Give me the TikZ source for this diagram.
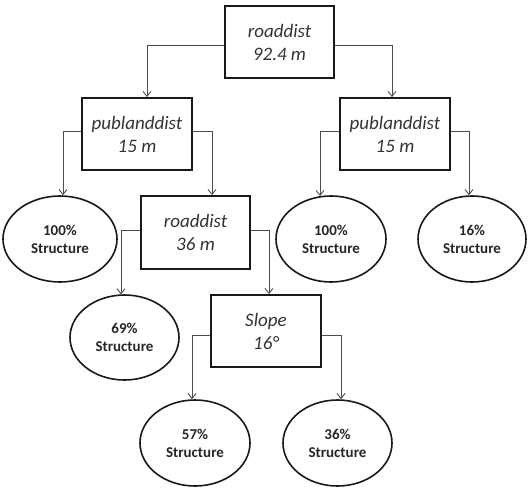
\documentclass[tikz,border=0pt]{standalone}
\usepackage{fontspec}
\setmainfont{Carlito}
\usetikzlibrary{arrows.meta,shapes.geometric}
\begin{document}
\begin{tikzpicture}[x=1pt,y=-1pt,
  splitbox/.style={draw=black!90,line width=1.8pt,rectangle,minimum width=109pt,minimum height=72pt,inner sep=0pt,align=center,font=\fontsize{19}{23}\selectfont\itshape,text=black!80},
  leaf/.style={draw=black!90,line width=1.6pt,ellipse,minimum width=110pt,minimum height=86pt,inner sep=0pt,align=center,font=\fontsize{15}{18}\selectfont\bfseries,text=black!85},
  conn/.style={draw=black!70,line width=0.9pt,-{Straight Barb[length=5pt,width=8pt]}}]
\useasboundingbox (0,0) rectangle (532,489);
\node[splitbox] (root) at (279.5,42) {roaddist\\92.4 m};
\node[splitbox,minimum width=110pt] (lp) at (137,134) {publanddist\\15 m};
\node[splitbox,minimum width=110pt] (rp) at (395,134) {publanddist\\15 m};
\node[splitbox,minimum height=73pt] (r36) at (195.5,232.5) {roaddist\\36 m};
\node[splitbox,minimum width=110pt] (slope) at (266,331) {Slope\\16°};
\node[leaf,minimum width=114pt] (e1) at (60,239) {100\%\\Structure};
\node[leaf,minimum width=109pt,minimum height=85pt] (e69) at (124.5,337.5) {69\%\\Structure};
\node[leaf] (e100r) at (331,239) {100\%\\Structure};
\node[leaf,minimum width=108pt] (e16) at (472,239) {16\%\\Structure};
\node[leaf] (e57) at (195,443) {57\%\\Structure};
\node[leaf,minimum width=109pt] (e36) at (337.5,443) {36\%\\Structure};
\draw[conn] ([yshift=-3pt]root.west) -| ([xshift=10pt]lp.north);
\draw[conn] ([yshift=-3pt]root.east) -| ([xshift=-3pt]rp.north);
\draw[conn] ([yshift=3pt]lp.west) -| ([xshift=3pt]e1.north);
\draw[conn] ([yshift=3pt]lp.east) -| ([xshift=16.5pt]r36.north);
\draw[conn] ([yshift=2.5pt]r36.west) -| ([xshift=-3.5pt,yshift=-0.2pt]e69.north);
\draw[conn] ([yshift=2.5pt]r36.east) -| ([xshift=3pt]slope.north);
\draw[conn] ([yshift=3pt]rp.west) -| ([xshift=-11pt,yshift=-0.9pt]e100r.north);
\draw[conn] ([yshift=3pt]rp.east) -| ([xshift=-3pt]e16.north);
\draw[conn] ([yshift=-4pt]slope.west) -| ([xshift=-3pt]e57.north);
\draw[conn] ([yshift=-4pt]slope.east) -| ([xshift=3.5pt]e36.north);
\end{tikzpicture}
\end{document}
